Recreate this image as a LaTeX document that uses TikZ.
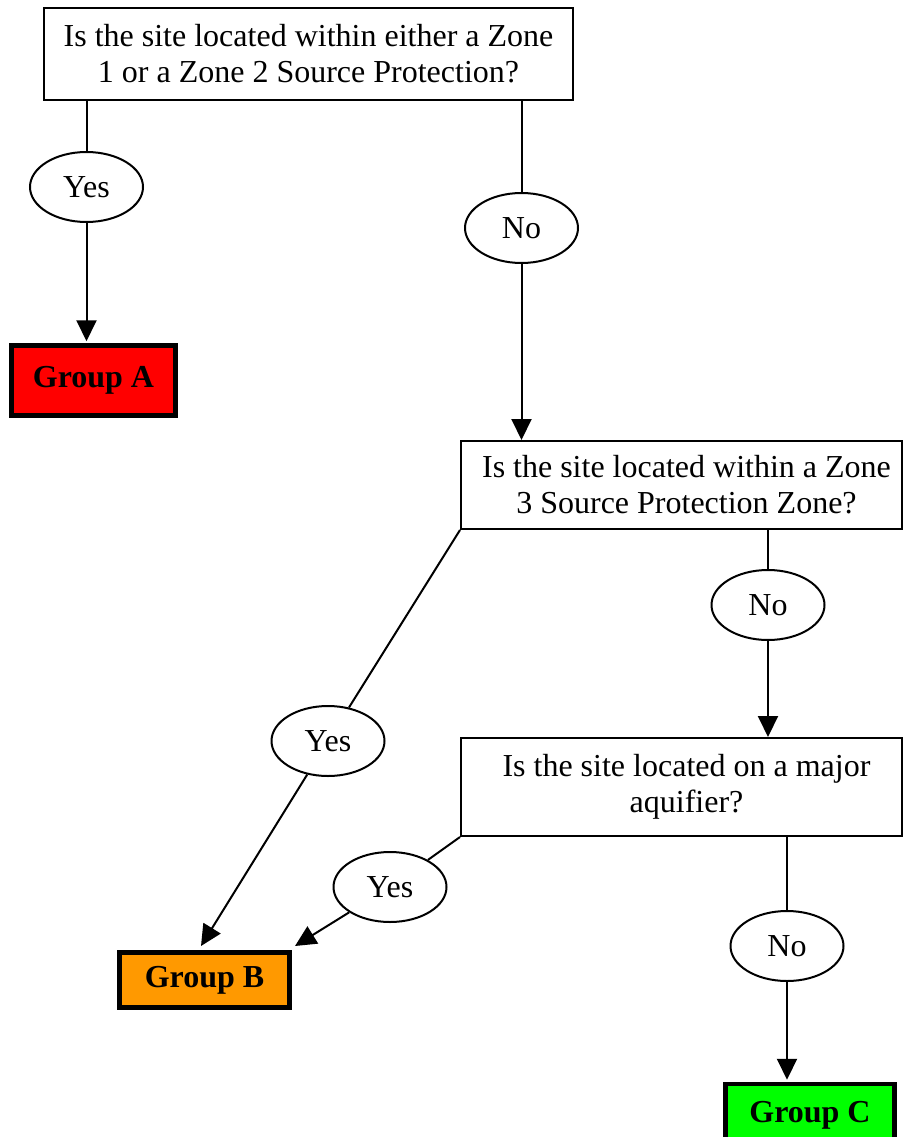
\documentclass[tikz,border=0pt]{standalone}
\usepackage{fontspec}
\setmainfont{Liberation Serif}
\usetikzlibrary{arrows.meta,shapes.geometric,calc}
\definecolor{groupA}{RGB}{255,0,0}
\definecolor{groupB}{RGB}{255,153,0}
\definecolor{groupC}{RGB}{0,255,0}
\begin{document}
\begin{tikzpicture}[x=1pt,y=-1pt,
  every node/.style={font=\fontsize{32}{36}\selectfont},
  question/.style={draw,line width=2pt,fill=white,align=center,inner sep=0pt},
  answer/.style={draw,ellipse,line width=2pt,fill=white,minimum width=113pt,minimum height=70pt,inner sep=0pt},
  group/.style={draw,line width=4.5pt,font=\fontsize{32}{36}\selectfont\bfseries,inner sep=0pt},
  link/.style={line width=2pt},
  arrow/.style={link,-{Triangle[width=20pt,length=21pt]}}
]
\clip (0,0) rectangle (904,1137);

% decision boxes
\node[question,minimum width=529pt,minimum height=92pt] (q1) at (308.5,54)
  {Is the site located within either a Zone\\1 or a Zone 2 Source Protection?};
\node[question,minimum width=441pt,minimum height=88pt] (q2) at (681.5,485)
  {\hspace*{10pt}Is the site located within a Zone\\\hspace*{10pt}3 Source Protection Zone?};
\node[question,minimum width=441pt,minimum height=98pt] (q3) at (681.5,787)
  {\hspace*{10pt}Is the site located on a major\\\hspace*{10pt}aquifier?};

% outcome groups
\node[group,fill=groupA,minimum width=164pt,minimum height=70pt] (ga) at (93.5,380.5) {Group A};
\node[group,fill=groupB,minimum width=170pt,minimum height=55pt] (gb) at (204.5,980) {Group B};
\node[group,fill=groupC,minimum width=169pt,minimum height=63pt] (gc) at (810,1115.5) {Group C};

% answer ellipses
\node[answer] (yes1) at (86.5,187) {Yes};
\node[answer] (no1) at (521.5,228) {No};
\node[answer] (yes2) at (328,741) {Yes};
\node[answer] (no2) at (768,605) {No};
\node[answer] (yes3) at (390,887) {Yes};
\node[answer] (no3) at (787,946) {No};

% arrow ends just above Group B
\coordinate (bLeft) at (201,946);
\coordinate (bRight) at (295,946);

% connectors
\draw[link] (q1.south -| yes1) -- (yes1);
\draw[arrow,shorten >=2pt] (yes1) -- (yes1 |- ga.north);
\draw[link] (q1.south -| no1) -- (no1);
\draw[arrow] (no1) -- (no1 |- q2.north);
\draw[link] (q2.south west) -- (yes2);
\draw[arrow] (yes2) -- (bLeft);
\draw[link] (q2.south -| no2) -- (no2);
\draw[arrow] (no2) -- (no2 |- q3.north);
\draw[link] (q3.south west) -- (yes3);
\draw[arrow] (yes3) -- (bRight);
\draw[link] (q3.south -| no3) -- (no3);
\draw[arrow,shorten >=2pt] (no3) -- (no3 |- gc.north);
\end{tikzpicture}
\end{document}
